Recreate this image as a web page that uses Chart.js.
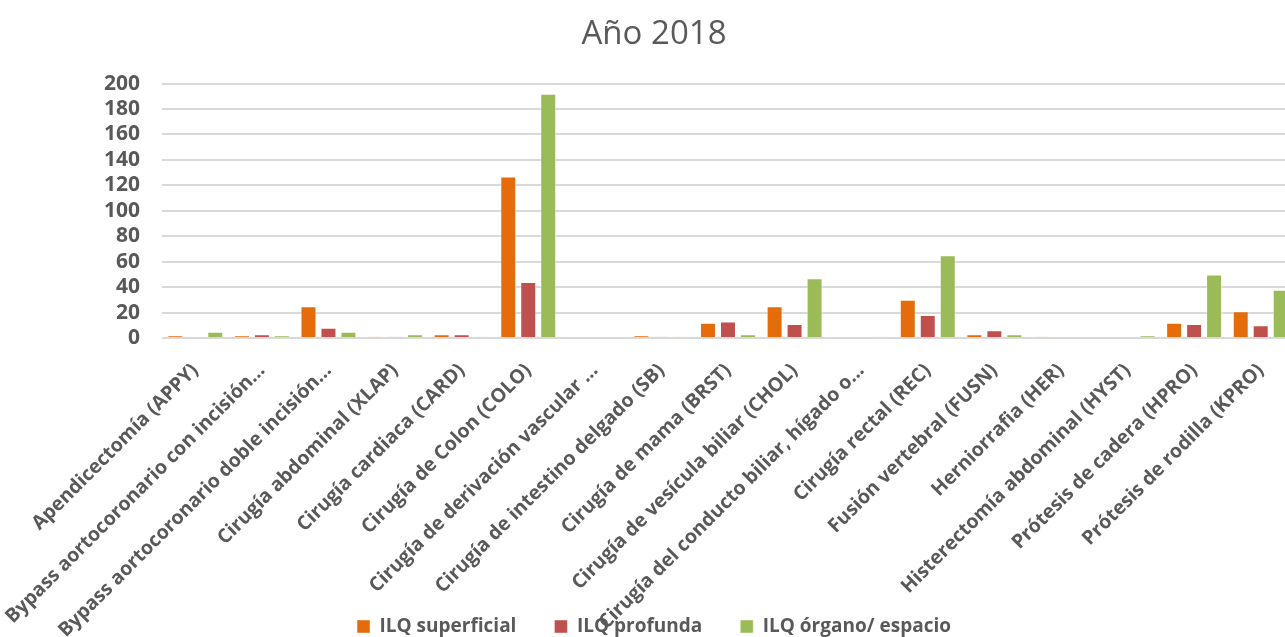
<!DOCTYPE html>
<html>
<head>
<meta charset="utf-8">
<script src="https://cdn.jsdelivr.net/npm/chart.js@4/dist/chart.umd.min.js"></script>
<style>
  html, body { margin: 0; padding: 0; background: #fff; overflow: hidden; }
  #wrapper { width: 1285px; height: 637px; overflow: hidden; }
</style>
</head>
<body>
<div id="wrapper">
  <canvas id="chart-bar-ilq" width="1296" height="637"></canvas>
</div>
<script>
const procedimientos = [
  "Apendicectomía (APPY)",
  "Bypass aortocoronario con incisión…",
  "Bypass aortocoronario doble incisión…",
  "Cirugía abdominal (XLAP)",
  "Cirugía cardiaca (CARD)",
  "Cirugía de Colon (COLO)",
  "Cirugía de derivación vascular …",
  "Cirugía de intestino delgado (SB)",
  "Cirugía de mama (BRST)",
  "Cirugía de vesícula biliar (CHOL)",
  "Cirugía del conducto biliar, hígado o…",
  "Cirugía rectal (REC)",
  "Fusión vertebral (FUSN)",
  "Herniorrafia (HER)",
  "Histerectomía abdominal (HYST)",
  "Prótesis de cadera (HPRO)",
  "Prótesis de rodilla (KPRO)",
];

const ilqSuperficial = [2, 2, 25, 1, 3, 127, 0, 2, 12, 25, 0, 30, 3, 1, 0, 12, 21];
const ilqProfunda = [0, 3, 8, 1, 3, 44, 0, 1, 13, 11, 0, 18, 6, 0, 0, 11, 10];
const ilqOrgano = [5, 2, 5, 3, 1, 192, 0, 1, 3, 47, 1, 65, 3, 0, 2, 50, 38];

const yTicks = [0, 20, 40, 60, 80, 100, 120, 140, 160, 180, 200];

const gris = "#595959";

Chart.defaults.font.family = "'Open Sans', 'Noto Sans', sans-serif";
Chart.defaults.color = gris;

function serie(label, data, color) {
  return {
    label: label,
    data: data,
    backgroundColor: color,
    borderColor: "rgba(255,255,255,0.45)",
    borderWidth: 1,
    categoryPercentage: 0.9,
    barPercentage: 0.8,
  };
}

// the rotated labels run under the legend, so let them draw to the bottom
// and push the legend a bit lower, like in the original
const labelsHastaAbajo = {
  id: "labelsHastaAbajo",
  afterLayout(chart) {
    chart.scales.x.bottom = chart.height;
    chart.legend.top += 9;
    chart.legend.bottom += 9;
  },
};

new Chart(document.getElementById("chart-bar-ilq"), {
  type: "bar",
  data: {
    labels: procedimientos,
    datasets: [
      serie("ILQ superficial", ilqSuperficial, "#E46C0A"),
      serie("ILQ profunda", ilqProfunda, "#C0504D"),
      serie("ILQ órgano/ espacio", ilqOrgano, "#9BBB59"),
    ],
  },
  plugins: [labelsHastaAbajo],
  options: {
    responsive: false,
    animation: false,
    layout: { padding: { left: 14, right: 2, top: 0, bottom: 0 } },
    plugins: {
      title: {
        display: true,
        text: "Año 2018",
        color: gris,
        font: { size: 33, weight: "normal" },
        padding: { top: 15, bottom: 29 },
      },
      legend: {
        position: "bottom",
        labels: {
          boxWidth: 13,
          boxHeight: 13,
          padding: 38,
          color: gris,
          font: { size: 19, weight: "bold" },
        },
      },
      tooltip: { enabled: false },
    },
    scales: {
      x: {
        grid: { display: false },
        border: { display: false },
        ticks: {
          autoSkip: false,
          minRotation: 45,
          maxRotation: 45,
          padding: 13,
          color: gris,
          font: { size: 19.5, weight: "bold" },
        },
        afterFit: (scale) => {
          const legendHeight = scale.chart.legend ? scale.chart.legend.height : 34;
          scale.height = 637 - 338 - legendHeight;
        },
      },
      y: {
        min: 0,
        max: 200,
        afterBuildTicks: (scale) => {
          scale.ticks = yTicks.map((v) => ({ value: v }));
        },
        grid: { color: "#d9d9d9", lineWidth: 2, drawTicks: false },
        border: { display: false },
        ticks: {
          autoSkip: false,
          padding: 22,
          color: gris,
          font: { size: 21, weight: "bold" },
        },
        afterFit: (scale) => {
          scale.width = 148;
        },
      },
    },
  },
});
</script>
</body>
</html>
